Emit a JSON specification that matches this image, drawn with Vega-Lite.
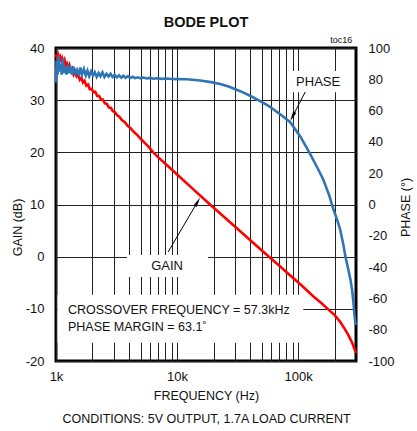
{
  "$schema": "https://vega.github.io/schema/vega-lite/v6.json",
  "width": 300,
  "height": 313,
  "autosize": "none",
  "padding": {"left": 56, "top": 48, "right": 61, "bottom": 70},
  "background": "white",
  "config": {
    "font": "Liberation Sans",
    "view": {"stroke": "black", "strokeWidth": 3},
    "axis": {
      "labelFont": "Liberation Sans",
      "labelFontSize": 13,
      "labelColor": "#111",
      "titleFont": "Liberation Sans",
      "titleFontSize": 12.5,
      "titleFontWeight": "normal",
      "titleColor": "#111",
      "ticks": false,
      "tickSize": 0,
      "domain": false,
      "gridColor": "#222",
      "gridOpacity": 1,
      "gridWidth": 1
    }
  },
  "title": {
    "text": "BODE PLOT",
    "frame": "group",
    "anchor": "middle",
    "offset": 6,
    "fontSize": 14.5,
    "fontWeight": "bold",
    "font": "Liberation Sans",
    "color": "#111"
  },
  "datasets": {
    "gain": [
      {"f": 1000, "g": 38.8}, {"f": 1020, "g": 38.1}, {"f": 1040, "g": 38.7}, {"f": 1060, "g": 37.9},
      {"f": 1080, "g": 38.3}, {"f": 1100, "g": 37.3}, {"f": 1125, "g": 38.0}, {"f": 1150, "g": 37.2},
      {"f": 1175, "g": 37.7}, {"f": 1200, "g": 36.5}, {"f": 1230, "g": 37.0}, {"f": 1260, "g": 36.1},
      {"f": 1290, "g": 36.7}, {"f": 1320, "g": 35.7}, {"f": 1360, "g": 36.1}, {"f": 1400, "g": 34.9},
      {"f": 1440, "g": 35.4}, {"f": 1480, "g": 34.6}, {"f": 1520, "g": 35.0}, {"f": 1570, "g": 33.9},
      {"f": 1620, "g": 34.3}, {"f": 1670, "g": 33.4}, {"f": 1720, "g": 33.7}, {"f": 1780, "g": 32.8},
      {"f": 1840, "g": 33.0}, {"f": 1900, "g": 32.1}, {"f": 1970, "g": 32.2}, {"f": 2040, "g": 31.5},
      {"f": 2110, "g": 31.6}, {"f": 2190, "g": 30.8}, {"f": 2270, "g": 30.8}, {"f": 2350, "g": 30.1},
      {"f": 2440, "g": 30.1}, {"f": 2530, "g": 29.4}, {"f": 2630, "g": 29.3}, {"f": 2730, "g": 28.6},
      {"f": 2840, "g": 28.5}, {"f": 2950, "g": 27.9}, {"f": 3070, "g": 27.7}, {"f": 3200, "g": 27.1},
      {"f": 3350, "g": 26.8}, {"f": 3500, "g": 26.2}, {"f": 3700, "g": 25.8}, {"f": 3900, "g": 25.1},
      {"f": 4150, "g": 24.6}, {"f": 4400, "g": 23.9}, {"f": 4700, "g": 23.3}, {"f": 5000, "g": 22.6},
      {"f": 5400, "g": 21.8}, {"f": 5800, "g": 21.1}, {"f": 6300, "g": 20.1}, {"f": 7000, "g": 19.03},
      {"f": 8000, "g": 17.8}, {"f": 10000, "g": 15.75}, {"f": 13000, "g": 13.33}, {"f": 18700, "g": 10.0},
      {"f": 25000, "g": 7.4}, {"f": 35000, "g": 4.39}, {"f": 45000, "g": 2.14}, {"f": 57300, "g": 0.0},
      {"f": 71000, "g": -1.9}, {"f": 85000, "g": -3.5}, {"f": 104000, "g": -5.3}, {"f": 133000, "g": -7.6},
      {"f": 155000, "g": -8.9}, {"f": 177000, "g": -10.1}, {"f": 200000, "g": -11.2}, {"f": 222000, "g": -12.5},
      {"f": 240000, "g": -13.7}, {"f": 259000, "g": -15.0}, {"f": 280000, "g": -16.6}, {"f": 300000, "g": -18.5}
    ],
    "phase": [
      {"f": 1000, "p": 78}, {"f": 1012, "p": 92}, {"f": 1030, "p": 83}, {"f": 1050, "p": 95},
      {"f": 1070, "p": 85}, {"f": 1090, "p": 90}, {"f": 1115, "p": 83}, {"f": 1140, "p": 93},
      {"f": 1165, "p": 84}, {"f": 1190, "p": 88}, {"f": 1220, "p": 83}, {"f": 1250, "p": 89},
      {"f": 1280, "p": 84}, {"f": 1320, "p": 87}, {"f": 1360, "p": 83}, {"f": 1400, "p": 88},
      {"f": 1440, "p": 84}, {"f": 1490, "p": 86}, {"f": 1540, "p": 82}, {"f": 1590, "p": 87.5},
      {"f": 1640, "p": 83}, {"f": 1700, "p": 86.5}, {"f": 1760, "p": 82.5}, {"f": 1820, "p": 85.5},
      {"f": 1880, "p": 82}, {"f": 1950, "p": 85}, {"f": 2020, "p": 82.5}, {"f": 2090, "p": 84.5},
      {"f": 2170, "p": 81.5}, {"f": 2250, "p": 84}, {"f": 2330, "p": 82}, {"f": 2420, "p": 84.5},
      {"f": 2510, "p": 81.5}, {"f": 2610, "p": 83.5}, {"f": 2710, "p": 81.8}, {"f": 2820, "p": 83.5},
      {"f": 2930, "p": 81.5}, {"f": 3050, "p": 82.8}, {"f": 3180, "p": 81.2}, {"f": 3320, "p": 82.5},
      {"f": 3460, "p": 81}, {"f": 3600, "p": 82.3}, {"f": 3760, "p": 81}, {"f": 3930, "p": 82},
      {"f": 4100, "p": 80.8}, {"f": 4300, "p": 81.6}, {"f": 4500, "p": 80.7}, {"f": 4750, "p": 81.3},
      {"f": 5000, "p": 80.6}, {"f": 5300, "p": 81.1}, {"f": 5600, "p": 80.5}, {"f": 6000, "p": 80.9},
      {"f": 6400, "p": 80.4}, {"f": 6900, "p": 80.7}, {"f": 7500, "p": 80.3}, {"f": 8200, "p": 80.5},
      {"f": 9000, "p": 80.2}, {"f": 10000, "p": 80.1}, {"f": 12000, "p": 80}, {"f": 15500, "p": 79.2},
      {"f": 19000, "p": 78.2}, {"f": 22700, "p": 77}, {"f": 27000, "p": 75.2}, {"f": 33200, "p": 72.4},
      {"f": 40000, "p": 69.5}, {"f": 48500, "p": 66}, {"f": 57300, "p": 62.8}, {"f": 71000, "p": 57.7},
      {"f": 85900, "p": 52.6}, {"f": 104000, "p": 43.5}, {"f": 126000, "p": 32}, {"f": 145000, "p": 23},
      {"f": 161000, "p": 16}, {"f": 180000, "p": 6}, {"f": 195000, "p": -3}, {"f": 210000, "p": -10},
      {"f": 222000, "p": -16}, {"f": 235000, "p": -25}, {"f": 245000, "p": -33}, {"f": 260000, "p": -42},
      {"f": 270000, "p": -48}, {"f": 279000, "p": -55}, {"f": 286000, "p": -63}, {"f": 292000, "p": -71},
      {"f": 298000, "p": -77}
    ],
    "boxes": [
      {"f": 1030, "f2": 110000, "g": -7.3, "g2": -16.5},
      {"f": 3860, "f2": 18000, "g": 0.3, "g2": -3.9},
      {"f": 84300, "f2": 244000, "g": 35.6, "g2": 31.5}
    ],
    "arrows": [
      {"f": 8430, "g": 0.9, "f2": 14770, "g2": 10.52},
      {"f": 114200, "g": 31.57, "f2": 89700, "g2": 26.85}
    ],
    "heads": [
      {"k": "gain", "f": 14770, "g": 10.52},
      {"k": "phase", "f": 89700, "g": 26.85}
    ],
    "labels": [
      {"k": "c", "t": "PHASE", "f": 146000, "g": 33.54},
      {"k": "c", "t": "GAIN", "f": 8260, "g": -1.79},
      {"k": "l", "t": "CROSSOVER FREQUENCY = 57.3kHz", "f": 1256, "g": -10.2},
      {"k": "l", "t": "PHASE MARGIN = 63.1˚", "f": 1256, "g": -13.45},
      {"k": "r", "t": "toc16", "f": 279000, "g": 41.5}
    ]
  },
  "encoding": {
    "x": {
      "field": "f",
      "type": "quantitative",
      "scale": {"type": "log", "domain": [1000, 300000]},
      "axis": {
        "values": [1000, 2000, 3000, 4000, 5000, 6000, 7000, 8000, 9000, 10000, 20000, 30000, 40000, 50000, 60000, 70000, 80000, 90000, 100000, 200000],
        "labelExpr": "datum.value == 1000 ? '1k' : datum.value == 10000 ? '10k' : datum.value == 100000 ? '100k' : ''",
        "labelFlush": false,
        "labelOverlap": false,
        "labelPadding": 9,
        "grid": true,
        "title": ["FREQUENCY (Hz)", "CONDITIONS: 5V OUTPUT, 1.7A LOAD CURRENT"],
        "titleLineHeight": 23,
        "titlePadding": 6
      }
    }
  },
  "layer": [
    {
      "encoding": {
        "y": {
          "field": "g",
          "type": "quantitative",
          "scale": {"domain": [-20, 40]},
          "axis": {
            "values": [-20, -10, 0, 10, 20, 30, 40],
            "labelExpr": "toString(datum.value)",
            "grid": true,
            "labelPadding": 12,
            "title": "GAIN (dB)",
            "titleAngle": -90,
            "titleX": -39,
            "titleY": 179,
            "titleAlign": "center",
            "titleBaseline": "middle"
          }
        }
      },
      "layer": [
        {
          "data": {"name": "boxes"},
          "mark": {"type": "rect", "fill": "white"},
          "encoding": {"x2": {"field": "f2"}, "y2": {"field": "g2"}}
        },
        {
          "data": {"name": "gain"},
          "mark": {"type": "line", "color": "#ff0000", "strokeWidth": 2.6}
        },
        {
          "data": {"name": "arrows"},
          "mark": {"type": "rule", "color": "black", "strokeWidth": 1},
          "encoding": {"x2": {"field": "f2"}, "y2": {"field": "g2"}}
        },
        {
          "data": {"name": "heads"},
          "transform": [{"filter": "datum.k == 'gain'"}],
          "mark": {"type": "point", "shape": "M0,-1L-0.35,1L0.35,1Z", "filled": true, "color": "black", "opacity": 1, "size": 100, "angle": 30}
        },
        {
          "data": {"name": "heads"},
          "transform": [{"filter": "datum.k == 'phase'"}],
          "mark": {"type": "point", "shape": "M0,-1L-0.35,1L0.35,1Z", "filled": true, "color": "black", "opacity": 1, "size": 100, "angle": 207}
        },
        {
          "data": {"name": "labels"},
          "transform": [{"filter": "datum.k == 'c'"}],
          "mark": {"type": "text", "align": "center", "baseline": "middle", "fontSize": 13, "color": "#111"},
          "encoding": {"text": {"field": "t"}}
        },
        {
          "data": {"name": "labels"},
          "transform": [{"filter": "datum.k == 'l'"}],
          "mark": {"type": "text", "align": "left", "baseline": "middle", "fontSize": 12.5, "color": "#111"},
          "encoding": {"text": {"field": "t"}}
        },
        {
          "data": {"name": "labels"},
          "transform": [{"filter": "datum.k == 'r'"}],
          "mark": {"type": "text", "align": "right", "baseline": "middle", "fontSize": 9, "color": "#111"},
          "encoding": {"text": {"field": "t"}}
        }
      ]
    },
    {
      "data": {"name": "phase"},
      "mark": {"type": "line", "color": "#2e75b6", "strokeWidth": 2.6},
      "encoding": {
        "y": {
          "field": "p",
          "type": "quantitative",
          "scale": {"domain": [-100, 100]},
          "axis": {
            "orient": "right",
            "values": [-100, -80, -60, -40, -20, 0, 20, 40, 60, 80, 100],
            "labelExpr": "toString(datum.value)",
            "grid": false,
            "labelPadding": 12,
            "title": "PHASE (°)",
            "titleAngle": -90,
            "titleX": 49,
            "titleY": 159,
            "titleAlign": "center",
            "titleBaseline": "middle"
          }
        }
      }
    }
  ],
  "resolve": {"scale": {"y": "independent"}}
}
